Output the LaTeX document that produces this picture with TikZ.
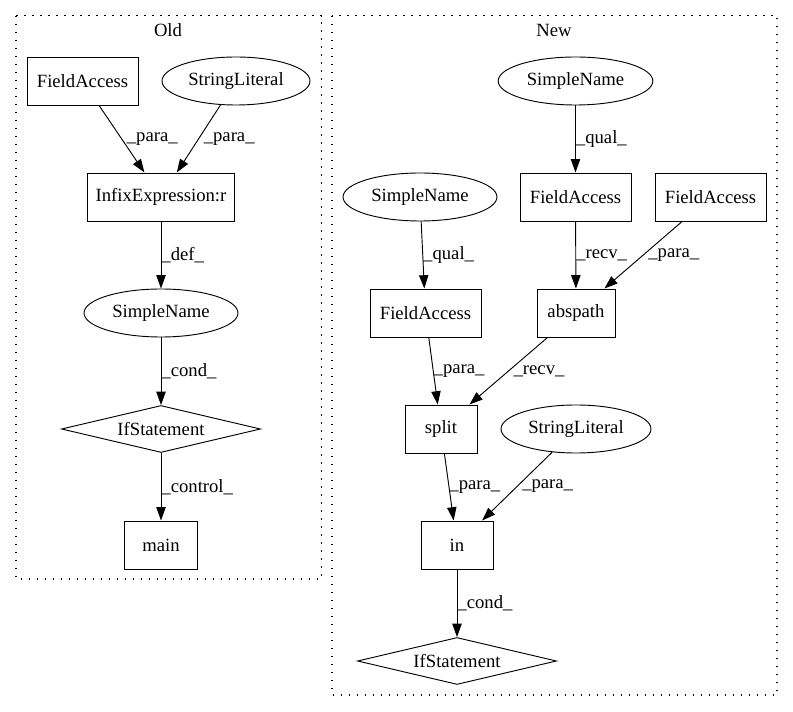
\documentclass[tikz,border=0pt]{standalone}
\usepackage{fontspec}
\setmainfont{Liberation Serif}
\usetikzlibrary{shapes.geometric,arrows.meta}
\begin{document}
\begin{tikzpicture}[x=0.75pt,y=-0.75pt,
  every node/.style={font=\fontsize{14}{16.8}\selectfont},
  box/.style={draw, line width=0.7pt, rectangle, minimum height=36pt, inner sep=0pt},
  oval/.style={draw, line width=0.7pt, ellipse, minimum height=36pt, inner sep=0pt},
  dia/.style={draw, line width=0.7pt, diamond, aspect=4.2, minimum width=149.25pt, minimum height=35.25pt, inner sep=0pt},
  arr/.style={draw, line width=0.7pt, -{Triangle[length=10pt,width=7pt]}},
  lbl/.style={anchor=west, inner sep=0pt, pos=0.5},
  slant/.style={xshift=3.5pt},
  cluster/.style={draw, line width=0.8pt, dash pattern=on 1pt off 5pt}]
\useasboundingbox (0,0) rectangle (793,712);
% clusters
\draw[cluster] (16,15.7) rectangle (321.5,579);
\draw[cluster] (332,15.7) rectangle (777,695);
\node (oldlbl) at (168,30) {Old};
\node (newlbl) at (554,30) {New};
% Old nodes
\node[box, minimum width=83.25pt] (ofa) at (82.5,81) {FieldAccess};
\node[oval, minimum width=111pt] (osl) at (236,81) {StringLiteral};
\node[box, minimum width=110.25pt] (oinf) at (161,197) {InfixExpression:r};
\node[oval, minimum width=115.5pt] (osn) at (161,313) {SimpleName};
\node[dia] (oif) at (161,429) {IfStatement};
\node[box, minimum width=54.75pt] (omain) at (161,545) {main};
% New nodes
\node[oval, minimum width=116pt] (nsn1) at (575.5,81) {SimpleName};
\node[oval, minimum width=115.5pt] (nsn2) at (420,197) {SimpleName};
\node[box, minimum width=83.25pt] (nfa1) at (575.5,197) {FieldAccess};
\node[box, minimum width=83.25pt] (nfa2) at (710.5,197) {FieldAccess};
\node[box, minimum width=83.25pt] (nfa3) at (425.5,313) {FieldAccess};
\node[box, minimum width=58.5pt] (nabs) at (576,313) {abspath};
\node[box, minimum width=54pt] (nsplit) at (441,429) {split};
\node[oval, minimum width=112.5pt] (nsl) at (576,429) {StringLiteral};
\node[box, minimum width=54pt] (nin) at (457,545) {in};
\node[dia] (nif) at (457,661) {IfStatement};
% Old edges
\path[arr] (ofa) -- node[lbl, slant] {\_para\_} (oinf);
\path[arr] (osl) -- node[lbl, slant] {\_para\_} (oinf);
\path[arr] (oinf) -- node[lbl] {\_def\_} (osn);
\path[arr] (osn) -- node[lbl] {\_cond\_} (oif);
\path[arr] (oif) -- node[lbl] {\_control\_} (omain);
% New edges
\path[arr] (nsn1) -- node[lbl] {\_qual\_} (nfa1);
\path[arr] (nsn2) -- node[lbl] {\_qual\_} (nfa3);
\path[arr] (nfa1) -- node[lbl] {\_recv\_} (nabs);
\path[arr] (nfa2) -- node[lbl, slant] {\_para\_} (nabs);
\path[arr] (nfa3) -- node[lbl] {\_para\_} (nsplit);
\path[arr] (nabs) -- node[lbl, slant] {\_recv\_} (nsplit);
\path[arr] (nsplit) -- node[lbl] {\_para\_} (nin);
\path[arr] (nsl) -- node[lbl, slant] {\_para\_} (nin);
\path[arr] (nin) -- node[lbl] {\_cond\_} (nif);
\end{tikzpicture}
\end{document}
